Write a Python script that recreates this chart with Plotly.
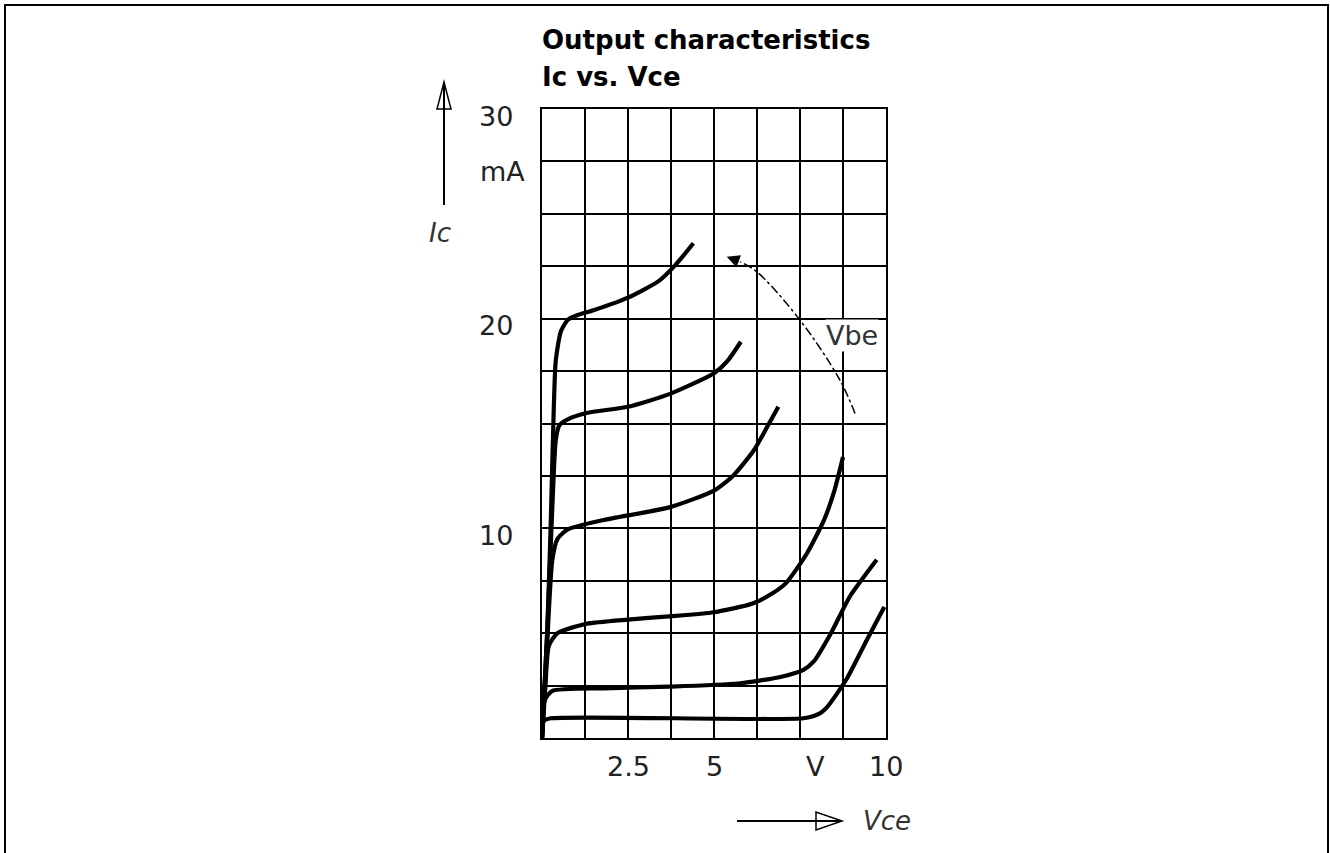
import plotly.graph_objects as go

# ---- data ----
c1_x = [0, 0.15, 0.25, 0.33, 0.40, 0.55, 0.75, 1.0, 1.5, 2.5, 3.4, 3.9, 4.4]
c1_y = [0, 5.0, 10.0, 15.0, 18.0, 19.4, 19.95, 20.15, 20.4, 21.0, 21.8, 22.6, 23.6]
c2_x = [0, 0.15, 0.30, 0.40, 0.50, 0.75, 1.3, 2.5, 3.7, 5.0, 5.4, 5.78]
c2_y = [0, 5.0, 11.0, 14.2, 14.9, 15.2, 15.5, 15.8, 16.4, 17.4, 18.0, 18.9]
c3_x = [0, 0.15, 0.30, 0.45, 0.75, 1.8, 3.7, 5.0, 5.55, 6.15, 6.5, 6.87]
c3_y = [0, 4.5, 8.5, 9.5, 9.95, 10.4, 11.0, 11.8, 12.5, 13.7, 14.7, 15.8]
c4_x = [0, 0.10, 0.20, 0.45, 1.3, 2.5, 3.7, 5.0, 6.1, 6.7, 7.1, 7.7, 8.2, 8.5, 8.75]
c4_y = [0, 2.5, 4.4, 5.0, 5.45, 5.65, 5.8, 6.0, 6.4, 6.9, 7.4, 8.8, 10.4, 11.8, 13.4]
c5_x = [0, 0.08, 0.30, 1.8, 3.7, 5.7, 6.9, 7.6, 7.9, 8.4, 8.95, 9.73]
c5_y = [0, 1.8, 2.25, 2.37, 2.45, 2.6, 2.9, 3.25, 3.65, 5.0, 6.75, 8.5]
c6_x = [0, 0.05, 0.25, 7.6, 8.05, 8.3, 8.85, 9.45, 9.95]
c6_y = [0, 0.8, 0.94, 0.94, 1.15, 1.5, 2.8, 4.7, 6.25]
curves = [(c1_x, c1_y), (c2_x, c2_y), (c3_x, c3_y), (c4_x, c4_y), (c5_x, c5_y), (c6_x, c6_y)]

vbe_x = [9.10, 8.66, 7.50, 6.24, 5.76]
vbe_y = [15.48, 17.07, 19.93, 22.24, 22.71]
vbe_tip = (5.37, 22.95)

x_tick_vals = [2.5, 5, 7.95, 10]
x_tick_text = ["2.5", "5", "V", "10"]
y_tick_vals = [10, 20, 30]
y_tick_text = ["10", "20", "30"]
y_unit = ("mA", 27.0)

title_lines = ["Output characteristics", "Ic vs. Vce"]

# ---- layout geometry (pixels) ----
W, H = 1330, 853
L, R, T, B = 542, 886, 109, 738


def px(x):
    return (x - L) / (R - L)


def py(y):
    return (B - y) / (B - T)


fig = go.Figure()
for cx, cy in curves:
    fig.add_trace(go.Scatter(x=cx, y=cy, mode="lines",
                             line=dict(color="black", width=4.2, shape="spline", smoothing=0.6),
                             hoverinfo="skip", showlegend=False))

fig.add_trace(go.Scatter(x=vbe_x, y=vbe_y, mode="lines",
                         line=dict(color="black", width=1.5, dash="dashdot", shape="spline"),
                         hoverinfo="skip", showlegend=False))

ann = []
# arrowhead of the Vbe arrow
ann.append(dict(x=vbe_tip[0], y=vbe_tip[1], ax=vbe_x[-1], ay=vbe_y[-1],
                xref="x", yref="y", axref="x", ayref="y", text="",
                showarrow=True, arrowhead=2, arrowsize=1.6, arrowwidth=1.6, arrowcolor="black"))
ann.append(dict(x=9.0, y=19.2, xref="x", yref="y", text="Vbe", showarrow=False,
                xanchor="center", yanchor="middle",
                font=dict(family="DejaVu Sans", size=27, color="#333333"),
                bgcolor="white", borderpad=0))

lab_font = dict(family="DejaVu Sans", size=27, color="#222222")
for v, t in zip(x_tick_vals, x_tick_text):
    ann.append(dict(x=v, y=0, xref="x", yref="y", text=t, showarrow=False,
                    xanchor="center", yanchor="middle", yshift=-28, font=lab_font))
for v, t in zip(y_tick_vals, y_tick_text):
    ann.append(dict(x=0, y=v, xref="x", yref="y", text=t, showarrow=False,
                    xanchor="center", yanchor="middle", xshift=-46, yshift=-7, font=lab_font))
ann.append(dict(x=0, y=y_unit[1], xref="x", yref="y", text=y_unit[0], showarrow=False,
                xanchor="center", yanchor="middle", xshift=-40, font=lab_font))

# title
for i, (line, ypix) in enumerate(zip(title_lines, [40, 77])):
    ann.append(dict(x=px(540), y=py(ypix), xref="paper", yref="paper", text="<b>%s</b>" % line,
                    showarrow=False, xanchor="left", yanchor="middle",
                    font=dict(family="DejaVu Sans", size=26, color="black")))

# axis names
ann.append(dict(x=px(440), y=py(233), xref="paper", yref="paper", text="<i>Ic</i>",
                showarrow=False, xanchor="center", yanchor="middle",
                font=dict(family="DejaVu Sans", size=26, color="#333333")))
ann.append(dict(x=px(861), y=py(821), xref="paper", yref="paper", text="<i>Vce</i>",
                showarrow=False, xanchor="left", yanchor="middle",
                font=dict(family="DejaVu Sans", size=26, color="#333333")))

shapes = []
# page frame
shapes.append(dict(type="rect", xref="paper", yref="paper", x0=px(5), x1=px(1328),
                   y0=py(5), y1=py(900), line=dict(color="black", width=2), layer="below"))
# Ic arrow
shapes.append(dict(type="line", xref="paper", yref="paper", x0=px(444), x1=px(444),
                   y0=py(205), y1=py(84), line=dict(color="black", width=2)))
shapes.append(dict(type="path", xref="paper", yref="paper",
                   path="M %f,%f L %f,%f L %f,%f Z" % (px(444), py(82), px(437), py(109), px(451), py(109)),
                   line=dict(color="black", width=1.5), fillcolor="rgba(0,0,0,0)"))
# Vce arrow
shapes.append(dict(type="line", xref="paper", yref="paper", x0=px(737), x1=px(840),
                   y0=py(821), y1=py(821), line=dict(color="black", width=2)))
shapes.append(dict(type="path", xref="paper", yref="paper",
                   path="M %f,%f L %f,%f L %f,%f Z" % (px(842), py(821), px(816), py(812), px(816), py(830)),
                   line=dict(color="black", width=1.5), fillcolor="rgba(0,0,0,0)"))

axis_common = dict(showgrid=True, gridcolor="black", gridwidth=2, showline=True, mirror=True,
                   linecolor="black", linewidth=2, zeroline=False, showticklabels=False,
                   ticks="", fixedrange=True)
fig.update_layout(
    width=W, height=H,
    margin=dict(l=L, r=W - R, t=T, b=H - B, pad=0),
    paper_bgcolor="white", plot_bgcolor="white",
    xaxis=dict(range=[0, 10], dtick=1.25, tick0=0, **axis_common),
    yaxis=dict(range=[0, 30], dtick=2.5, tick0=0, **axis_common),
    annotations=ann, shapes=shapes, showlegend=False,
)

fig.write_html("out.html", config={"displayModeBar": False},
               post_script="document.body.style.margin='0';document.body.style.overflow='hidden';")
